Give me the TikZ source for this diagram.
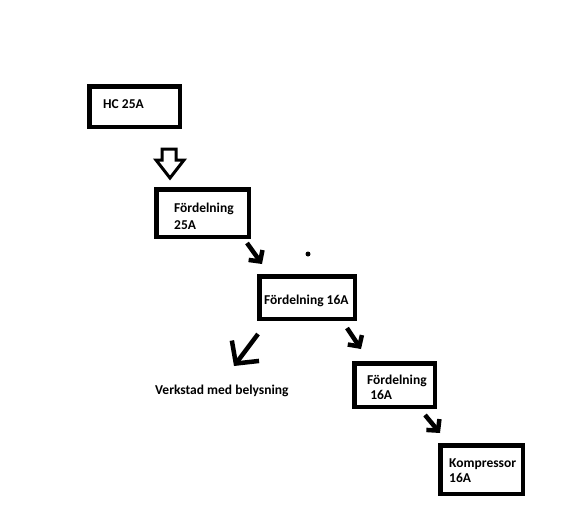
\documentclass[tikz,border=0pt]{standalone}
\usepackage{fontspec}
\setmainfont{Carlito}
\usetikzlibrary{arrows.meta}
\begin{document}
\begin{tikzpicture}[x=1pt,y=-1pt,
  box/.style={draw=black,line width=4.5pt,rectangle,inner sep=0pt},
  lbl/.style={font=\bfseries\fontsize{13.5}{15}\selectfont,inner sep=0pt,anchor=west,align=left},
  arr/.style={draw=black,line width=4.5pt,-{Straight Barb[length=8pt,width=17pt]}},
  bigarr/.style={draw=black,line width=4.5pt,-{Straight Barb[length=16pt,width=34pt]}}]
\useasboundingbox[fill=white] (0,0) rectangle (582,528);
% boxes
\node[box,minimum width=90.5pt,minimum height=40.5pt] (b1) at (134.5,106.5) {};
\node[lbl] (t1) at (103,104) {HC 25A};
\node[box,minimum width=92.5pt,minimum height=47.5pt] (b2) at (202.5,213) {};
\node[lbl,font=\bfseries\fontsize{13.5}{17}\selectfont] (t2) at (174,216) {Fördelning\\25A};
\node[box,minimum width=95.5pt,minimum height=42.5pt] (b3) at (307,297.5) {};
\node[lbl] (t3) at (264,301) {Fördelning 16A};
\node[box,minimum width=80.5pt,minimum height=43.5pt] (b4) at (394.5,385) {};
\node[lbl] (t4) at (367,387) {Fördelning\\\ 16A};
\node[box,minimum width=82.5pt,minimum height=48.5pt] (b5) at (481.5,469.5) {};
\node[lbl] (t5) at (449,471) {Kompressor\\16A};
\node[lbl] (v) at (155,391) {Verkstad med belysning};
% hollow arrow
\draw[line width=3pt,line join=miter] (162,149) -- (176,149) -- (176,160) -- (184,160) -- (170,178) -- (156,160) -- (162,160) -- cycle;
% dot
\fill (308,254) circle (2.5pt);
% arrows
\coordinate (a1s) at (247,243); \coordinate (a1e) at (262,264);
\coordinate (a2s) at (258,334); \coordinate (a2e) at (234,366);
\coordinate (a3s) at (347,328); \coordinate (a3e) at (361,349);
\coordinate (a4s) at (425,415); \coordinate (a4e) at (440,433);
\draw[arr] (a1s) -- (a1e);
\draw[bigarr] (a2s) -- (a2e);
\draw[arr] (a3s) -- (a3e);
\draw[arr] (a4s) -- (a4e);
\end{tikzpicture}
\end{document}
